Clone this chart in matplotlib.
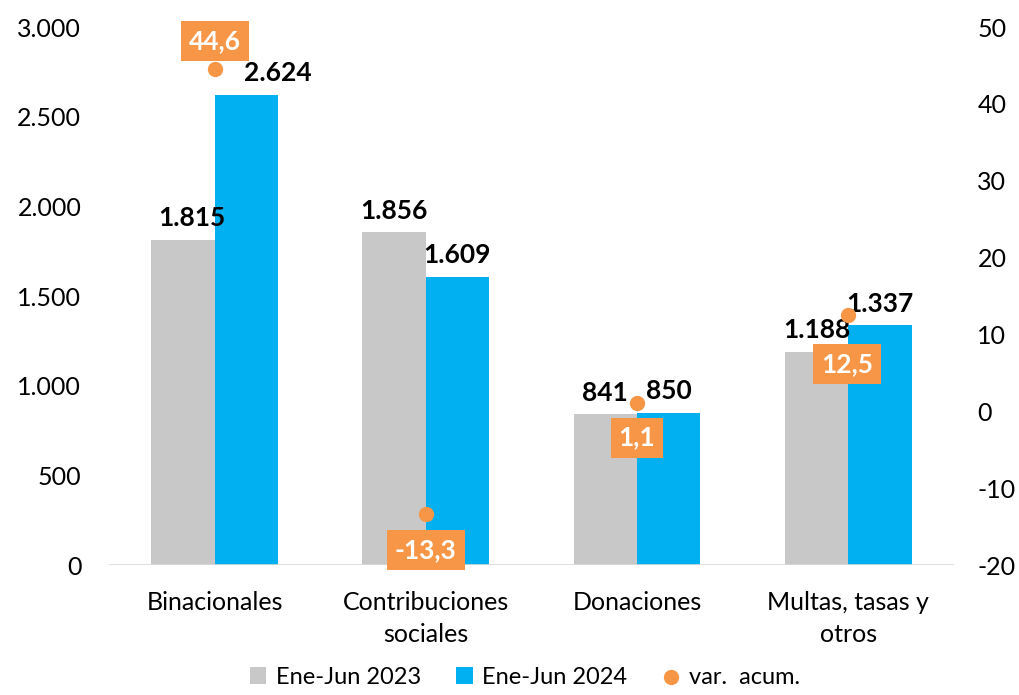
import numpy as np
import matplotlib.pyplot as plt

plt.rcParams['font.family'] = ['Lato', 'DejaVu Sans']
plt.rcParams['axes.unicode_minus'] = False

# Data
categories = ["Binacionales", "Contribuciones\nsociales", "Donaciones", "Multas, tasas y\notros"]
ene_jun_2023 = [1815, 1856, 841, 1188]
ene_jun_2024 = [2624, 1609, 850, 1337]
var_acum = [44.6, -13.3, 1.1, 12.5]

gray = "#C8C8C8"
blue = "#00B0F0"
orange = "#F79646"

def fmt_miles(v):
    return f"{v:,.0f}".replace(",", ".")

def fmt_dec(v):
    return f"{v:.1f}".replace(".", ",")

fig = plt.figure(figsize=(10.19, 6.95), dpi=100)
ax = fig.add_axes([0.107, 0.187, 0.829, 0.774])
ax2 = ax.twinx()

x = np.arange(len(categories))
w = 0.30

b1 = ax.bar(x - w / 2, ene_jun_2023, w, color=gray, label="Ene-Jun 2023", zorder=2)
b2 = ax.bar(x + w / 2, ene_jun_2024, w, color=blue, label="Ene-Jun 2024", zorder=2)

ax.set_xlim(-0.5, len(categories) - 0.5)
ax.set_ylim(0, 3000)
ax.set_yticks(range(0, 3001, 500))
ax.set_yticklabels([fmt_miles(v) for v in range(0, 3001, 500)])
ax.set_xticks(x)
ax.set_xticklabels(categories, fontsize=18, linespacing=1.45)

ax2.set_ylim(-20, 50)
ax2.set_yticks(range(-20, 51, 10))

for a in (ax, ax2):
    for s in a.spines.values():
        s.set_visible(False)
    a.tick_params(length=0, labelsize=18, colors="black")
ax.tick_params(axis="y", pad=20)
ax.tick_params(axis="x", pad=19)
ax2.tick_params(axis="y", pad=17)
ax.axhline(0, color="#D9D9D9", lw=1.2, zorder=3)

# bar value labels (small x shifts for Binacionales to avoid the marker)
shift_23 = [0.04, 0, 0, 0]
shift_24 = [0.15, 0, 0, 0]
for i in range(len(categories)):
    ax.annotate(fmt_miles(ene_jun_2023[i]), (x[i] - w / 2 + shift_23[i], ene_jun_2023[i]),
                xytext=(0, 7), textcoords="offset points", ha="center", va="bottom",
                fontsize=19, fontweight="bold")
    ax.annotate(fmt_miles(ene_jun_2024[i]), (x[i] + w / 2 + shift_24[i], ene_jun_2024[i]),
                xytext=(0, 7), textcoords="offset points", ha="center", va="bottom",
                fontsize=19, fontweight="bold")

sc = ax2.scatter(x, var_acum, s=100, color=orange, zorder=5, label="var.  acum.")

# orange boxed labels: above for first, below for the rest
offsets = [(0, 20), (0, -26), (0, -25), (-1, -35)]
for i, v in enumerate(var_acum):
    ax2.annotate(fmt_dec(v), (x[i], v), xytext=offsets[i], textcoords="offset points",
                 ha="center", va="center", fontsize=19, fontweight="bold", color="white",
                 bbox=dict(boxstyle="square,pad=0.3", fc=orange, ec="none"), zorder=6)

handles = [b1, b2, sc]
fig.legend(handles, [h.get_label() for h in handles], loc="lower center",
           bbox_to_anchor=(0.515, -0.02), ncol=3, frameon=False, fontsize=17,
           handlelength=0.7, handletextpad=0.4, columnspacing=1.5)

fig.savefig("out.png", dpi=100)
